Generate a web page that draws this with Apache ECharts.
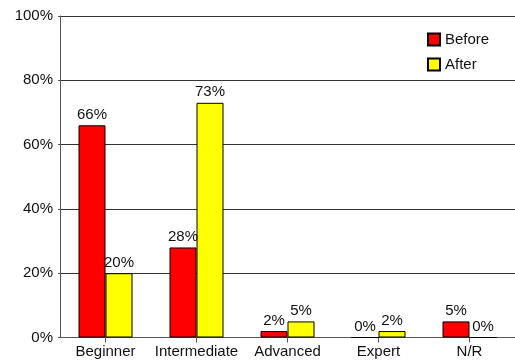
<!DOCTYPE html>
<html>
<head>
<meta charset="utf-8">
<script src="https://cdn.jsdelivr.net/npm/echarts@6/dist/echarts.min.js"></script>
<style>
  html, body { margin: 0; padding: 0; background: #fff; }
  #chart { width: 515px; height: 364px; }
</style>
</head>
<body>
<div id="chart"></div>
<script>
// Skill level before and after, in percent of respondents
const categories = ['Beginner', 'Intermediate', 'Advanced', 'Expert', 'N/R'];
const beforeValues = [66, 28, 2, 0, 5];
const afterValues = [20, 73, 5, 2, 0];
const yTicks = [0, 20, 40, 60, 80, 100];

const FONT = 'Liberation Sans, Arial, sans-serif';
const TEXT = '#111';

function barSeries(name, values, color) {
  return {
    name: name,
    type: 'bar',
    data: values,
    barWidth: 27,
    barGap: '0%',
    itemStyle: { color: color, borderColor: '#000', borderWidth: 1 },
    label: {
      show: true,
      position: 'top',
      distance: 3,
      formatter: '{c}%',
      color: TEXT,
      fontFamily: FONT,
      fontSize: 15
    }
  };
}

const chart = echarts.init(document.getElementById('chart'), null, { renderer: 'canvas' });
chart.setOption({
  animation: false,
  backgroundColor: '#fff',
  grid: { left: 60, top: 16, width: 460, height: 321.5 },
  legend: {
    orient: 'vertical',
    left: 427,
    top: 32,
    padding: 0,
    itemWidth: 12,
    itemHeight: 12,
    itemGap: 10,
    icon: 'rect',
    textStyle: { color: TEXT, fontFamily: FONT, fontSize: 15 },
    data: ['Before', 'After']
  },
  xAxis: {
    type: 'category',
    data: categories,
    axisLine: { lineStyle: { color: '#555', width: 1 } },
    axisTick: { show: true, alignWithLabel: true, interval: 0, length: 5, lineStyle: { color: '#555' } },
    axisLabel: {
      interval: 0,
      margin: 7,
      color: TEXT,
      fontFamily: FONT,
      fontSize: 15
    }
  },
  yAxis: {
    type: 'value',
    min: yTicks[0],
    max: yTicks[yTicks.length - 1],
    interval: yTicks[1] - yTicks[0],
    axisLine: { show: true, lineStyle: { color: '#555', width: 1 } },
    axisTick: { show: true, length: 2, lineStyle: { color: '#555' } },
    splitLine: { show: true, lineStyle: { color: '#333', width: 1 } },
    axisLabel: {
      margin: 7,
      color: TEXT,
      fontFamily: FONT,
      fontSize: 15,
      formatter: '{value}%'
    }
  },
  series: [
    barSeries('Before', beforeValues, '#ff0000'),
    barSeries('After', afterValues, '#ffff00')
  ]
});
</script>
</body>
</html>
